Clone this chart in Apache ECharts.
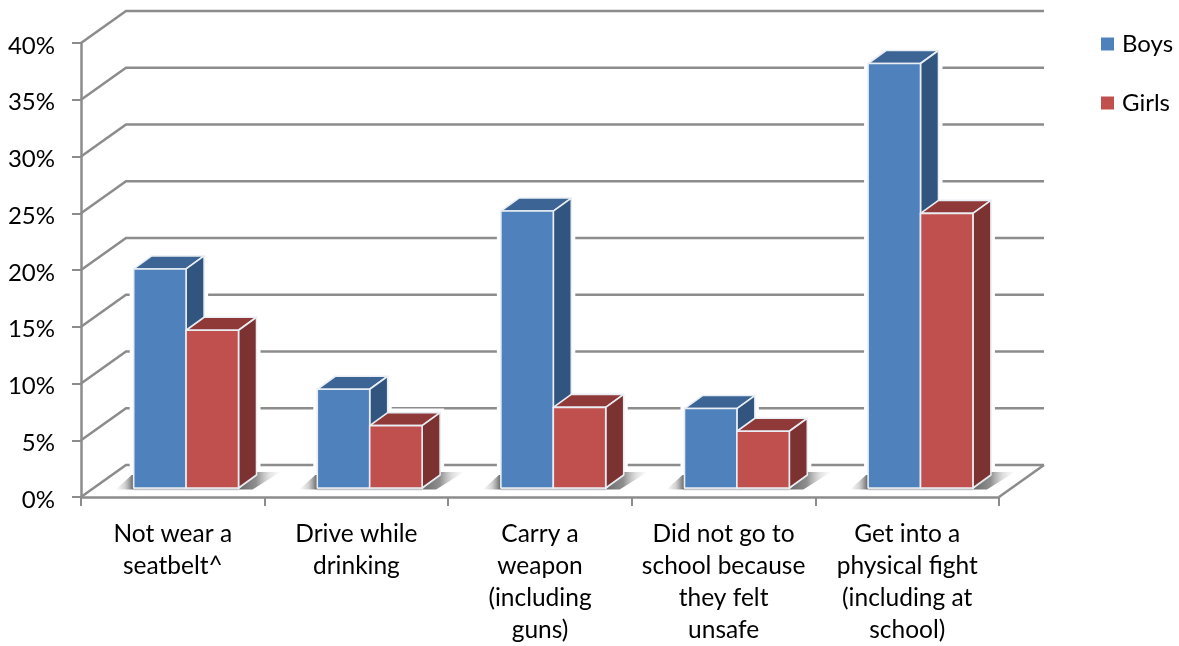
<!DOCTYPE html>
<html><head><meta charset="utf-8">
<style>html,body{margin:0;padding:0;background:#fff}#c{width:1179px;height:646px}</style>
<script src="https://cdn.jsdelivr.net/npm/echarts@6/dist/echarts.min.js"></script>
</head><body><div id="c"></div>
<script>
const categories = ['Not wear a\nseatbelt^','Drive while\ndrinking','Carry a\nweapon\n(including\nguns)','Did not go to\nschool because\nthey felt\nunsafe','Get into a\nphysical fight\n(including at\nschool)'];
const boys = [19.3, 8.7, 24.4, 7.0, 37.4];
const girls = [13.9, 5.5, 7.1, 5.0, 24.2];
const yTicks = [0,5,10,15,20,25,30,35,40];

const WALL = {dx:45, dy:-32};      // depth of the chart box
const SHIFT = {dx:13.3, dy:-9};    // bars stand this far behind the front edge
const DEPTH = {dx:18, dy:-13};     // depth of a bar
const BAR_RATIO = 0.2855;
const GRID = '#8c8c8c';
const FONT = 'Lato';

function barGeom(api, offsetBars){
  const c = api.value(0), band = api.size([1,0])[0];
  const w = band*BAR_RATIO;
  const base = api.coord([c,0]), top = api.coord([c,api.value(1)]);
  const x0 = base[0]+SHIFT.dx+offsetBars*w, x1 = x0+w;
  return {x0,x1,yb:base[1]+SHIFT.dy,yt:top[1]+SHIFT.dy};
}
function silhouette(g){
  return [[g.x0,g.yb],[g.x0,g.yt],[g.x0+DEPTH.dx,g.yt+DEPTH.dy],[g.x1+DEPTH.dx,g.yt+DEPTH.dy],[g.x1+DEPTH.dx,g.yb+DEPTH.dy],[g.x1,g.yb]];
}
function barItem(offset, front, topC, sideC){
  return (params, api)=>{
    const g = barGeom(api, offset);
    const edge = {stroke:'#e9eef4', lineWidth:1.6, lineJoin:'round'};
    return {type:'group', children:[
      {type:'polygon', shape:{points:[[g.x0,g.yt],[g.x0+DEPTH.dx,g.yt+DEPTH.dy],[g.x1+DEPTH.dx,g.yt+DEPTH.dy],[g.x1,g.yt]]}, style:{fill:topC,...edge}},
      {type:'polygon', shape:{points:[[g.x1,g.yt],[g.x1+DEPTH.dx,g.yt+DEPTH.dy],[g.x1+DEPTH.dx,g.yb+DEPTH.dy],[g.x1,g.yb]]}, style:{fill:sideC,...edge}},
      {type:'rect', shape:{x:g.x0,y:g.yt,width:g.x1-g.x0,height:g.yb-g.yt}, style:{fill:front,...edge}}
    ]};
  };
}
const silent = {silent:true, tooltip:{show:false}, z:2};
const pair = (arr)=>arr.map((v,i)=>[i,v]);

const option = {
  animation:false,
  backgroundColor:'#fff',
  textStyle:{fontFamily:FONT},
  grid:{left:81,top:43,width:918,height:454},
  legend:{
    orient:'vertical', left:1101, top:32, padding:0, itemWidth:13, itemHeight:13, itemGap:35, icon:'rect',
    data:['Boys','Girls'],
    textStyle:{fontFamily:FONT,fontSize:24,color:'#000',padding:[0,0,0,3]}
  },
  xAxis:{type:'category', data:categories,
    axisLine:{lineStyle:{color:GRID,width:2.5}},
    axisTick:{show:true,length:9,lineStyle:{color:GRID,width:2}},
    axisLabel:{interval:0,color:'#000',fontFamily:FONT,fontSize:24.5,lineHeight:32,margin:21}
  },
  yAxis:{type:'value',min:0,max:40,interval:5,
    axisLine:{show:true,lineStyle:{color:GRID,width:2.5}},
    axisTick:{show:true,length:9,lineStyle:{color:GRID,width:2}},
    splitLine:{show:false},
    axisLabel:{color:'#000',fontFamily:FONT,fontSize:24,margin:26,verticalAlign:'top',lineHeight:6,formatter:'{value}%'}
  },
  series:[
    {type:'custom',name:'walls',...silent,z:1,data:yTicks.map(v=>[0,v]),encode:{x:0,y:1},
     renderItem:(p,api)=>{
       const cs=p.coordSys, y=api.coord([0,api.value(1)])[1];
       const st={stroke:GRID,lineWidth:2.5,fill:null};
       const kids=[
         {type:'polyline',shape:{points:[[cs.x,y],[cs.x+WALL.dx,y+WALL.dy],[cs.x+cs.width+WALL.dx,y+WALL.dy]]},style:st}
       ];
       if(api.value(1)===0) kids.push({type:'line',shape:{x1:cs.x+cs.width,y1:y,x2:cs.x+cs.width+WALL.dx,y2:y+WALL.dy},style:st});
       return {type:'group',children:kids};
     }},
    {type:'custom',name:'halo',...silent,z:2,data:pair(boys),encode:{x:0,y:1},
     renderItem:(p,api)=>({type:'polygon',shape:{points:silhouette(barGeom(api,-1))},style:{fill:'#fff',stroke:'#fff',lineWidth:8}})},
    {type:'custom',name:'halo2',...silent,z:2,data:pair(girls),encode:{x:0,y:1},
     renderItem:(p,api)=>({type:'polygon',shape:{points:silhouette(barGeom(api,0))},style:{fill:'#fff',stroke:'#fff',lineWidth:8}})},
    {type:'custom',name:'shadow',...silent,z:3,data:pair(girls),encode:{x:0,y:1},
     renderItem:(p,api)=>{
       const g=barGeom(api,0), w=g.x1-g.x0, x0=g.x0-w;
       return {type:'group',children:[
         {type:'rect',shape:{x:x0,y:g.yb,width:g.x1-x0,height:2.2},style:{fill:'#c4c4c4'}},
         {type:'polygon',shape:{points:[[x0-18,g.yb+1.5],[x0-2,g.yb-13],[x0,g.yb-13],[x0,g.yb+1.5]]},
          style:{fill:new echarts.graphic.LinearGradient(0,0,1,0,[{offset:0,color:'rgba(130,130,130,0)'},{offset:0.5,color:'rgba(130,130,130,0.35)'},{offset:1,color:'rgba(80,80,80,0.9)'}])}},
         {type:'polygon',shape:{points:[[g.x1,g.yb+1.5],[g.x1+DEPTH.dx,g.yb+DEPTH.dy-3],[g.x1+DEPTH.dx+24,g.yb+DEPTH.dy-3],[g.x1+14,g.yb+1.5]]},
          style:{fill:new echarts.graphic.LinearGradient(0,0,1,0,[{offset:0,color:'rgba(90,90,90,0.9)'},{offset:0.42,color:'rgba(105,105,105,0.75)'},{offset:0.72,color:'rgba(150,150,150,0.3)'},{offset:1,color:'rgba(170,170,170,0)'}])}}
       ]};
     }},
    {type:'custom',name:'Boys',z:4,data:pair(boys),encode:{x:0,y:1},itemStyle:{color:'#4f81bd'},
     renderItem:barItem(-1,'#4f81bd','#3c6494','#32557f')},
    {type:'custom',name:'Girls',z:5,data:pair(girls),encode:{x:0,y:1},itemStyle:{color:'#c0504d'},
     renderItem:barItem(0,'#c0504d','#8f3a38','#7b3230')}
  ]
};
const chart = echarts.init(document.getElementById('c'),null,{renderer:'canvas'});
chart.setOption(option);
</script></body></html>
